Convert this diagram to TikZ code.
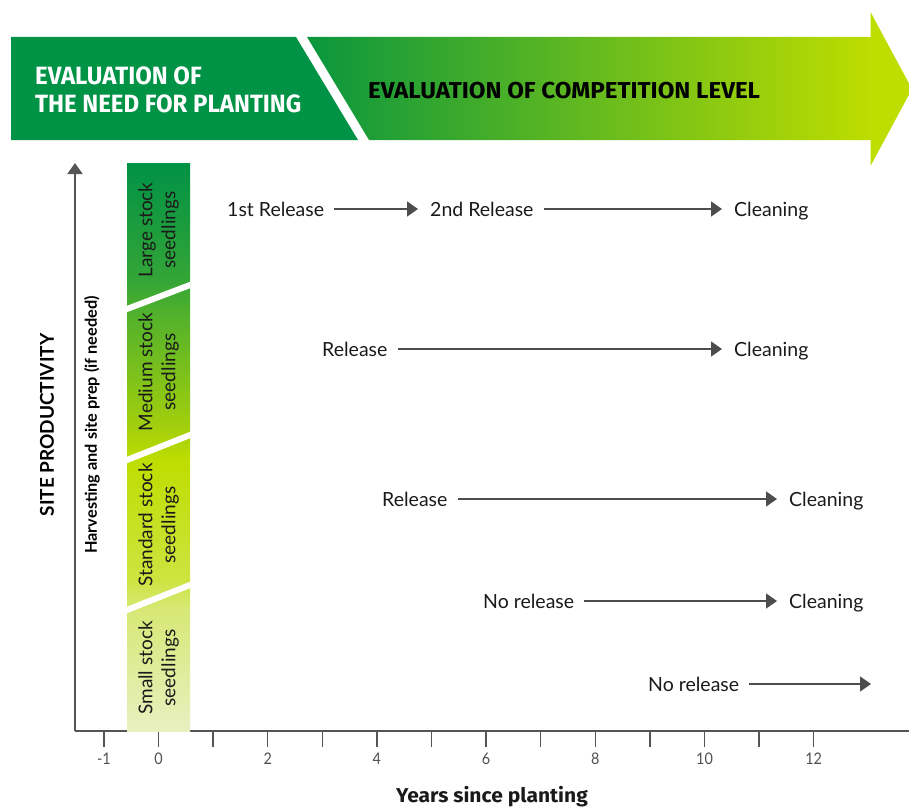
\documentclass[tikz,border=0pt]{standalone}
\usepackage{fontspec}
\setmainfont{Lato}
\newfontfamily\needfont{Fira Sans}[FakeStretch=0.96]
\newfontfamily\competfont{Fira Sans}[FakeStretch=1.05]
\newfontfamily\axisfont{Fira Sans}[FakeStretch=1.05]
\newfontfamily\tickfont{Lato}[FakeStretch=0.9]
\usetikzlibrary{arrows.meta}

\definecolor{leafgreen}{RGB}{0,146,69}
\definecolor{bannerstart}{RGB}{10,150,62}
\definecolor{limegreen}{RGB}{190,221,0}
\definecolor{axisgray}{RGB}{85,85,85}
\definecolor{flowgray}{RGB}{77,77,77}
\definecolor{inkdark}{RGB}{26,26,26}
\definecolor{ticktext}{RGB}{80,80,80}
\definecolor{palelime}{RGB}{232,240,192}
\definecolor{barA}{RGB}{215,232,118}
\definecolor{barB}{RGB}{205,228,64}
\definecolor{barC}{RGB}{190,221,0}
\definecolor{barD}{RGB}{165,208,12}
\definecolor{barE}{RGB}{78,176,45}
\definecolor{barF}{RGB}{52,165,55}

% stock-size bar: pale at the bottom, deep green at the top
\pgfdeclareverticalshading{stockbar}{100bp}{%
  color(0bp)=(palelime); color(25bp)=(palelime);
  color(35.7bp)=(barA); color(38.3bp)=(barB);
  color(48.9bp)=(barC); color(51.5bp)=(barD);
  color(62.1bp)=(barE); color(64.7bp)=(barF);
  color(75bp)=(leafgreen); color(100bp)=(leafgreen)}

\tikzset{
  axisline/.style={draw=axisgray, line width=2pt},
  tickline/.style={draw=axisgray, line width=1.5pt},
  yearlabel/.style={font=\tickfont\fontsize{16}{18}\selectfont, text=ticktext,
    inner sep=0pt, anchor=base},
  flow/.style={draw=flowgray, line width=1.6pt,
    -{Triangle[length=11pt,width=15pt]}, shorten <=10pt, shorten >=12pt},
  steptext/.style={font=\fontsize{19.5}{22}\selectfont, text=inkdark,
    inner sep=0pt, text height=14pt, text depth=0pt, anchor=west},
  stocklabel/.style={font=\fontsize{19}{23}\selectfont, text=inkdark,
    rotate=90, align=center, inner sep=0pt},
  gap/.style={draw=white, line width=6pt},
}

\begin{document}
\begin{tikzpicture}[x=1pt,y=-1pt]
\useasboundingbox (0,0) rectangle (909,808);

% ---- banner ----
\fill[leafgreen] (11,37) -- (296,37) -- (358,140) -- (11,140) -- cycle;
\shade[left color=bannerstart, right color=limegreen]
  (307,37) -- (871,37) -- (871,140) -- (369,140) -- cycle;
\fill[limegreen] (870.5,12) -- (912,89) -- (870.5,166) -- cycle;

\node (need1) [anchor=base west, inner sep=0pt, text=white,
  font=\needfont\bfseries\fontsize{25}{28}\selectfont] at (35,84) {EVALUATION OF};
\node (need2) [anchor=base west, inner sep=0pt, text=white,
  font=\needfont\bfseries\fontsize{25}{28}\selectfont] at (35,112.7) {THE NEED FOR PLANTING};
\node (compet) [anchor=base west, inner sep=0pt, text=black,
  font=\competfont\bfseries\fontsize{23}{28}\selectfont] at (368,98.3) {EVALUATION OF COMPETITION LEVEL};

% ---- axes ----
\coordinate (origin) at (75,731);
\coordinate (ytop) at (75,163);
\coordinate (xend) at (909,731);
\draw[axisline] (origin) -- (xend);
\draw[axisline, -{Triangle[length=11pt,width=15pt]}] (origin) -- (ytop);

\foreach \k in {-1,...,12}
  \draw[tickline] ({158.5+54.6*\k},731) -- ++(0,16);
\foreach \k in {-1,0,2,4,6,8,10,12}
  \node[yearlabel] at ({158.5+54.6*\k},764.5) {\k};

\node (xlabel) [font=\axisfont\bfseries\fontsize{20}{23}\selectfont, text=inkdark]
  at (492,797) {Years since planting};
\node (ylabel) [rotate=90, font=\bfseries\fontsize{19}{22}\selectfont, text=black]
  at (47,425) {SITE PRODUCTIVITY};
\node (harvest) [rotate=90, font=\bfseries\fontsize{16.3}{19}\selectfont, text=black]
  at (92,425) {Harvesting and site prep (if needed)};

% ---- stock-size bar ----
\shade[shading=stockbar] (127,163) rectangle (190,731);
\begin{scope}
  \clip (127,163) rectangle (190,731);
  \draw[gap] (117,{309+10*24/63}) -- (200,{285-10*24/63});
  \draw[gap] (117,{460+10*25/63}) -- (200,{435-10*25/63});
  \draw[gap] (117,{610+10*25/63}) -- (200,{585-10*25/63});
\end{scope}
\node (large)    [stocklabel] at (158.5,230) {Large stock\\seedlings};
\node (medium)   [stocklabel] at (158.5,372) {Medium stock\\seedlings};
\node (standard) [stocklabel] at (158.5,525) {Standard stock\\seedlings};
\node (small)    [stocklabel] at (158.5,668) {Small stock\\seedlings};

% ---- treatment sequences ----
\node (r1a) [steptext] at (227,209) {1st Release};
\node (r1b) [steptext] at (430,209) {2nd Release};
\node (r1c) [steptext] at (734,209) {Cleaning};
\draw[flow] (r1a.east) -- (r1b.west);
\draw[flow] (r1b.east) -- (r1c.west);

\node (r2a) [steptext] at (322,349) {Release};
\node (r2b) [steptext] at (734,349) {Cleaning};
\draw[flow] (r2a.east) -- (r2b.west);

\node (r3a) [steptext] at (382,499) {Release};
\node (r3b) [steptext] at (789,499) {Cleaning};
\draw[flow] (r3a.east) -- (r3b.west);

\node (r4a) [steptext] at (483,601) {No release};
\node (r4b) [steptext] at (789,601) {Cleaning};
\draw[flow] (r4a.east) -- (r4b.west);

\node (r5a) [steptext] at (648,684) {No release};
\coordinate (r5end) at (871,684);
\draw[flow, shorten >=0pt] (r5a.east) -- (r5end);
\end{tikzpicture}
\end{document}
